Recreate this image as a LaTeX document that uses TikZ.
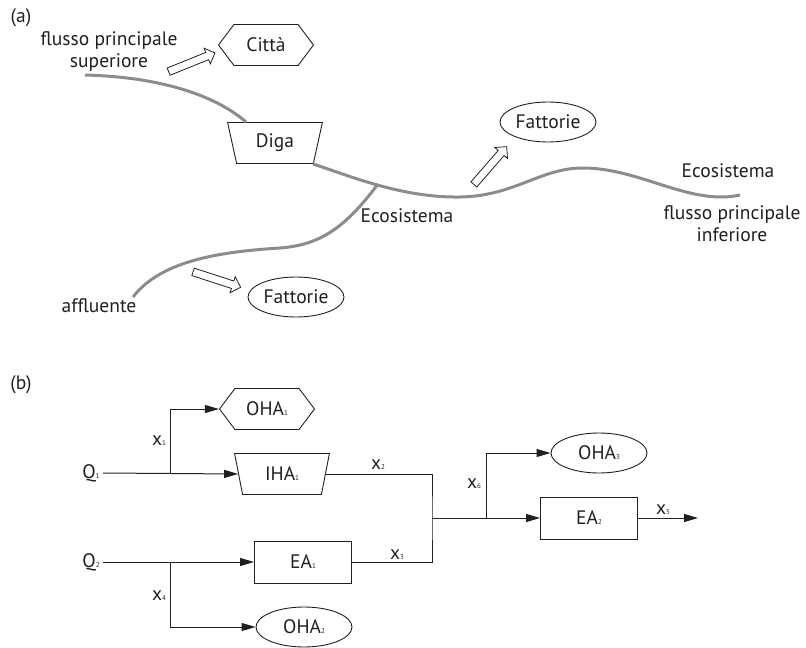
\documentclass[tikz,border=0pt]{standalone}
\usepackage{fontspec}
\setmainfont{PT Sans}
\usetikzlibrary{shapes.geometric, shapes.symbols, shapes.arrows, arrows.meta, positioning, calc}
\definecolor{ink}{RGB}{35,31,32}
\definecolor{river}{RGB}{140,140,140}
\newcommand{\ix}[1]{{\fontsize{7}{7}\selectfont #1}}

\begin{document}
\begin{tikzpicture}[x=1pt, y=-1pt,
        every node/.style={font=\fontsize{19.5}{22}\selectfont, text=ink},
        hexa/.style={signal, signal to=west and east, signal pointer angle=106, draw=ink, line width=0.9pt, minimum width=95pt, minimum height=41pt, inner sep=0pt},
        dam/.style={trapezium, trapezium stretches=true, shape border rotate=180, trapezium left angle=76, trapezium right angle=76, draw=ink, line width=0.9pt, minimum width=95pt, minimum height=41pt, inner sep=0pt},
        oval/.style={ellipse, draw=ink, line width=0.9pt, minimum width=96pt, minimum height=40pt, inner sep=0pt},
        unit/.style={rectangle, draw=ink, line width=0.9pt, minimum width=97pt, minimum height=42pt, inner sep=0pt},
        hollow/.style={single arrow, draw=ink, line width=0.8pt, fill=white, minimum height=50pt, minimum width=16pt, inner sep=3.5pt, single arrow head extend=4.5pt, single arrow head indent=0pt},
        stream/.style={draw=river, line width=3pt},
        flow/.style={draw=ink, line width=1pt},
        feed/.style={flow, -{Triangle[length=14pt, width=8pt]}}
    ]
    \useasboundingbox (0,0) rectangle (806,648);

    % (a)
    \node (taga) at (21,18) {(a)};
    \node[align=center] (upper) at (109,52) {flusso principale\\superiore};
    \node[hexa] (citta) at (266,45) {Città};
    \node[dam] (diga) at (275,143) {Diga};
    \node[oval] (farm1) at (548,122) {Fattorie};
    \node[oval] (farm2) at (296,297) {Fattorie};
    \node (eco1) at (407,216) {Ecosistema};
    \node (eco2) at (728,171) {Ecosistema};
    \node[align=center] (lower) at (732,224) {flusso principale\\inferiore};
    \node (trib) at (99,306) {affluente};
    \node[hollow, rotate=22] (arr1) at (190,63) {};
    \node[hollow, rotate=49] (arr2) at (489,167) {};
    \node[hollow, rotate=-18] (arr3) at (215,279) {};

    \coordinate (src) at (85,75);
    \coordinate (join) at (378,184);
    \coordinate (mouth) at (740,195);
    \coordinate (tsrc) at (133,297);
    \draw[stream] (src) .. controls (160,77) and (215,95) .. (246,122);
    \draw[stream] (313,164) .. controls (345,174) and (400,198) .. (460,197)
        .. controls (515,196) and (540,168) .. (583,168)
        .. controls (640,168) and (690,206) .. (mouth);
    \draw[stream] (join) .. controls (345,228) and (320,245) .. (280,248)
        .. controls (215,252) and (160,262) .. (tsrc);

    % (b)
    \node (tagb) at (21,385) {(b)};
    \node (q1) at (91,473) {Q\ix{1}};
    \node (q2) at (91,562) {Q\ix{2}};
    \node[hexa] (oha1) at (267,409) {OHA\ix{1}};
    \node[dam] (iha1) at (282,474) {IHA\ix{1}};
    \node[unit] (ea1) at (303,562) {EA\ix{1}};
    \node[oval] (oha2) at (304,627) {OHA\ix{2}};
    \node[oval] (oha3) at (599,453) {OHA\ix{3}};
    \node[unit] (ea2) at (589,518) {EA\ix{2}};

    \coordinate (b1) at (170,474);
    \coordinate (b2) at (170,562);
    \coordinate (m) at (432,518);
    \coordinate (b3) at (486,518);
    \coordinate (out) at (698,518);

    \draw[feed] (q1.east) -- (iha1.west);
    \draw[feed] (b1) |- (oha1.west);
    \draw[feed] (q2.east) -- (ea1.west);
    \draw[feed] (b2) |- (oha2.west);
    \draw[flow] (iha1.east) -| (m) |- (ea1.east);
    \draw[feed] (m) -- (ea2.west);
    \draw[feed] (b3) |- (oha3.west);
    \draw[feed] (ea2.east) -- (out);

    \node (x1) at (159,441) {x\ix{1}};
    \node (x2) at (378,465) {x\ix{2}};
    \node (x3) at (397,555) {x\ix{3}};
    \node (x4) at (159,596) {x\ix{4}};
    \node (x5) at (663,510) {x\ix{5}};
    \node (x6) at (474,484) {x\ix{6}};
\end{tikzpicture}
\end{document}
